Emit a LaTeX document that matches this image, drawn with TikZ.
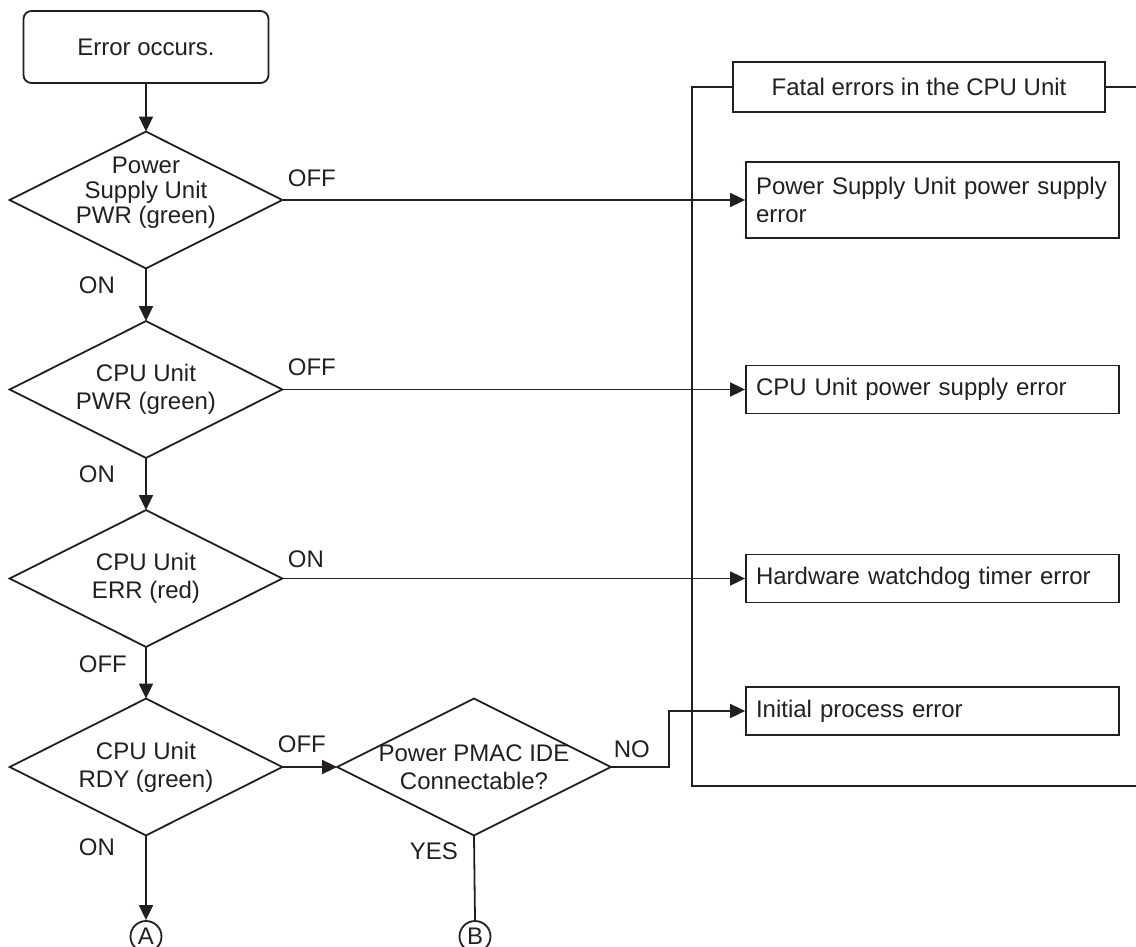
\documentclass[tikz,border=0pt]{standalone}
\usepackage{fontspec}
\setmainfont{Liberation Sans}
\usetikzlibrary{arrows.meta}
\definecolor{ink}{HTML}{231F20}

\tikzset{
  startbox/.style={draw, rounded corners=4pt, minimum width=122.5pt, minimum height=36pt},
  decision/.style={minimum width=135.5pt, minimum height=67.5pt, inner sep=0pt, align=center},
  errbox/.style={draw, minimum height=24pt, text width=176.5pt, inner sep=5pt, align=left},
  lbl/.style={inner sep=0pt, anchor=base west},
  connector/.style={draw, circle, inner sep=0pt, minimum size=15.5pt}
}

\begin{document}
\begin{tikzpicture}[x=0.5pt, y=-0.5pt, >={Triangle[length=7.5pt,width=7pt]},
  line width=0.9pt, draw=ink, text=ink, font=\fontsize{12}{14}\selectfont]
\useasboundingbox (0,0) rectangle (1136,947);

% left column
\node[startbox] (start) at (146,47) {Error occurs.};
\node[decision, text depth=10pt, font=\fontsize{12}{12.5}\selectfont] (pwr) at (146,200) {Power\\Supply Unit\\PWR (green)};
\node[decision] (cpupwr) at (146,389.5) {CPU Unit\\PWR (green)};
\node[decision] (err) at (146,578.5) {CPU Unit\\ERR (red)};
\node[decision] (rdy) at (146,767) {CPU Unit\\RDY (green)};
\node[decision, minimum width=136pt] (ide) at (474,767) {Power PMAC IDE\\Connectable?};
\foreach \d in {pwr,cpupwr,err,rdy,ide}
  \draw (\d.north) -- (\d.east) -- (\d.south) -- (\d.west) -- cycle;

\node[connector] (A) at (146,936.5) {A};
\node[connector] (B) at (475,936.5) {B};

% right column
\node[draw, minimum width=186pt, minimum height=25pt] (fatal) at (919,87) {Fatal errors in the CPU Unit};
\node[errbox, minimum height=38pt] (psuerr) at (932.5,200) {Power Supply Unit power supply\\error};
\node[errbox] (cpuerr) at (932.5,389.5) {CPU Unit power supply error};
\node[errbox] (hwerr) at (932.5,578.5) {Hardware watchdog timer error};
\node[errbox] (initerr) at (932.5,711) {Initial process error};
\coordinate (rimtop) at (1136,87);
\coordinate (rimbot) at (1136,786);

% flow
\draw[->] (start.south) -- (pwr.north);
\draw[->] (pwr.south) -- (cpupwr.north);
\draw[->] (cpupwr.south) -- (err.north);
\draw[->] (err.south) -- (rdy.north);
\draw[->] (rdy.south) -- (A.north);
\draw (ide.south) -- (B.north);
\draw[->] (rdy.east) -- (ide.west);
\draw[->] (pwr.east) -- (psuerr.west);
\draw[->] (cpupwr.east) -- (cpuerr.west);
\draw[->] (err.east) -- (hwerr.west);
\draw[->] (ide.east) -- ++(58,0) |- (initerr.west);
\draw (fatal.west) -- ++(-40,0) |- (rimbot);
\draw (fatal.east) -- (rimtop);

% branch labels
\node[lbl] (l1) at (287,186) {OFF};
\node[lbl] (l2) at (78,293) {ON};
\node[lbl] (l3) at (287,375) {OFF};
\node[lbl] (l4) at (78,482) {ON};
\node[lbl] (l5) at (287,567) {ON};
\node[lbl] (l6) at (78,672) {OFF};
\node[lbl] (l7) at (277,752) {OFF};
\node[lbl] (l8) at (78,855) {ON};
\node[lbl] (l9) at (409,859) {YES};
\node[lbl] (l10) at (613,757) {NO};
\end{tikzpicture}
\end{document}
